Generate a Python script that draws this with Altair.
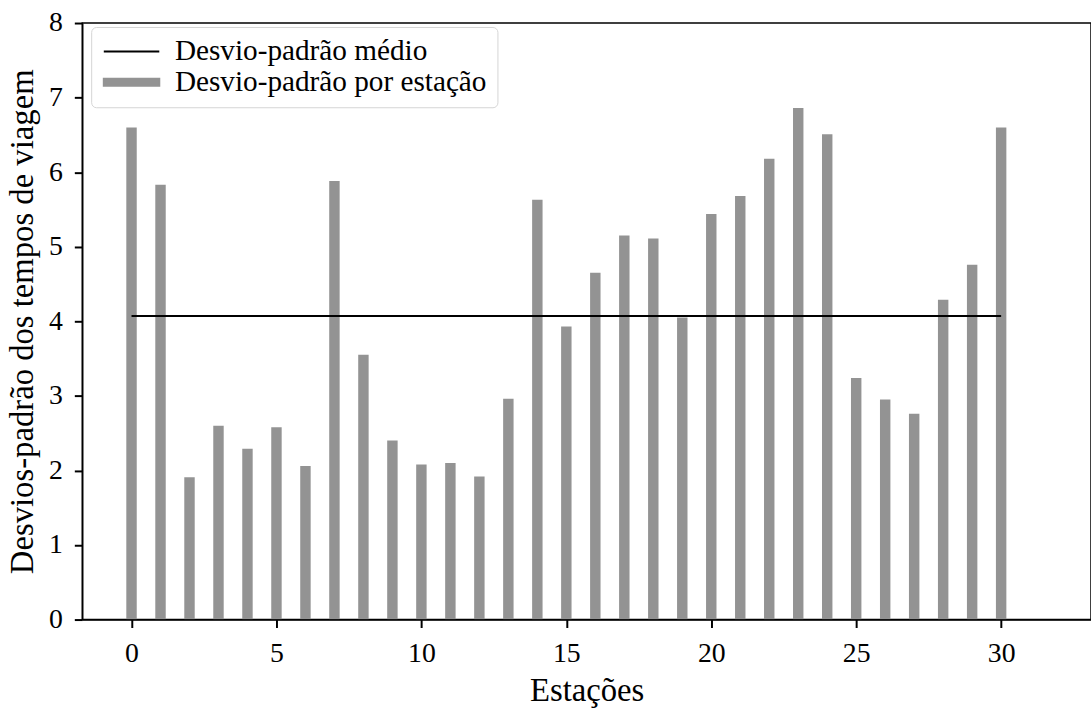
import altair as alt
import pandas as pd

# Standard deviation of travel times for each station
stations = list(range(31))
std_values = [6.60, 5.83, 1.91, 2.60, 2.29, 2.58, 2.06, 5.88, 3.55, 2.40,
              2.08, 2.10, 1.92, 2.96, 5.63, 3.93, 4.65, 5.15, 5.11, 4.05,
              5.44, 5.68, 6.18, 6.86, 6.51, 3.24, 2.95, 2.76, 4.29, 4.76,
              6.60]

# Mean standard deviation, drawn as a horizontal line over the stations
mean_std = 4.07
mean_start, mean_end = 0, 30

series_names = ["Desvio-padrão médio", "Desvio-padrão por estação"]
series_colors = ["#000000", "#939393"]
# legend glyphs: a short line and a wide patch
series_shapes = ["M-5.6,0H5.6", "M-5.6,-0.7H5.6V0.7H-5.6Z"]

x_ticks = [0, 5, 10, 15, 20, 25, 30]
y_ticks = [0, 1, 2, 3, 4, 5, 6, 7, 8]
bar_width = 0.36

bars_df = pd.DataFrame({"estacao": stations, "desvio": std_values,
                        "serie": series_names[1]})
mean_df = pd.DataFrame({"x0": [mean_start], "x1": [mean_end],
                        "desvio": [mean_std], "serie": [series_names[0]]})
legend_df = pd.DataFrame({"serie": series_names})

FONT = "Liberation Serif"
x_scale = alt.Scale(domain=[-1.7, 33.1], nice=False, zero=False)
y_scale = alt.Scale(domain=[0, 8], nice=False)
fill_scale = alt.Scale(domain=series_names, range=series_colors)
shape_scale = alt.Scale(domain=series_names, range=series_shapes)

legend = alt.Legend(
    title=None, orient="none", legendX=9, legendY=4,
    padding=10, strokeColor="#d4d4d4", fillColor="#ffffff",
    cornerRadius=5, labelFont=FONT, labelFontSize=29.5, labelColor="#000000",
    labelLimit=0, symbolSize=100, symbolStrokeWidth=2, symbolOffset=16,
    labelOffset=29, rowPadding=0,
)

tick_style = dict(ticks=True, tickSize=8, tickWidth=2, tickColor="#000000",
                  tickOpacity=1, zindex=1)
x_axis = alt.Axis(values=x_ticks, title="Estações", format="d",
                  labelPadding=12, titlePadding=8, **tick_style)
y_axis = alt.Axis(values=y_ticks, title="Desvios-padrão dos tempos de viagem",
                  format="d", labelPadding=12, titlePadding=9, **tick_style)

bars = alt.Chart(bars_df).transform_calculate(
    left=f"datum.estacao - {bar_width / 2}",
    right=f"datum.estacao + {bar_width / 2}",
).mark_bar().encode(
    x=alt.X("left:Q", scale=x_scale, axis=x_axis),
    x2="right:Q",
    y=alt.Y("desvio:Q", scale=y_scale, axis=y_axis),
    y2=alt.datum(0),
    fill=alt.Fill("serie:N", scale=fill_scale, legend=legend),
)

mean_line = alt.Chart(mean_df).mark_rule(strokeWidth=2).encode(
    x="x0:Q",
    x2="x1:Q",
    y="desvio:Q",
    stroke=alt.Stroke("serie:N", scale=fill_scale, legend=legend),
)

# Keys only: supplies the legend glyph shapes, draws no marks
legend_keys = alt.Chart(legend_df).transform_filter("false").mark_point(
    filled=True, opacity=1
).encode(
    shape=alt.Shape("serie:N", scale=shape_scale, legend=legend),
    fill=alt.Fill("serie:N", scale=fill_scale, legend=legend),
    stroke=alt.Stroke("serie:N", scale=fill_scale, legend=legend),
)

chart = alt.layer(bars, mean_line, legend_keys).properties(
    width=1018, height=602,
    autosize=alt.AutoSizeParams(type="none"),
    padding={"left": 83, "top": 20, "right": 0, "bottom": 86},
    background="#ffffff",
).configure_view(
    stroke="#000000", strokeWidth=1.5
).configure_axis(
    grid=False, domainColor="#000000", domainWidth=1.5,
    labelFont=FONT, labelFontSize=28, labelColor="#000000",
    titleFont=FONT, titleFontSize=33, titleFontWeight="normal",
    titleColor="#000000",
)

chart.save("out.html", embed_options={"renderer": "svg", "actions": False})
